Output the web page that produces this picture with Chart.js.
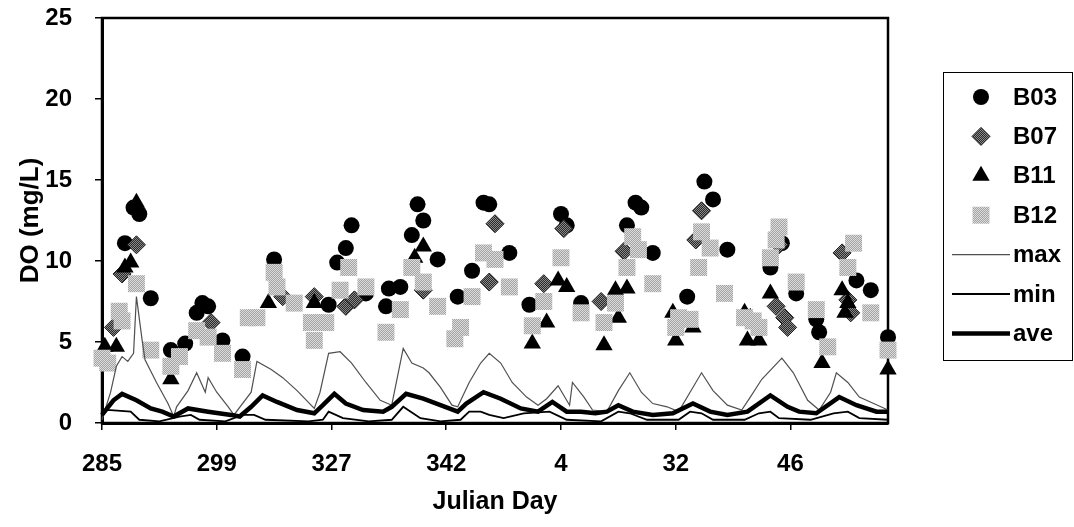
<!DOCTYPE html>
<html>
<head>
<meta charset="utf-8">
<title>DO (mg/L) by Julian Day</title>
<script src="https://cdn.jsdelivr.net/npm/chart.js@4/dist/chart.umd.min.js"></script>
<style>
  body { margin: 0; background: #fff; }
  canvas { display: block; }
</style>
</head>
<body>
<canvas id="doChart" width="1074" height="527"></canvas>
<script>
// x values are slots along the day axis, 40 slots between labelled days
var dayLabels = ['285', '299', '327', '342', '4', '32', '46'];
var slotsPerLabel = 40;
var lastSlot = 274;

// station readings
var b03Slot = [8, 11, 13, 17, 24, 29, 33, 35, 37, 42, 49, 60, 79, 82, 85, 87, 92, 99, 100, 104,
  108, 110, 112, 117, 124, 129, 133, 135, 142, 149, 160, 162, 167, 183, 186, 188, 192, 204, 210, 213,
  218, 233, 237, 242, 249, 250, 263, 268, 274];
var b03DO = [11.1, 13.3, 12.9, 7.7, 4.5, 4.9, 6.8, 7.4, 7.2, 5.1, 4.1, 10.1, 7.3, 9.9, 10.8, 12.2, 8.0, 7.2, 8.3, 8.4,
  11.6, 13.5, 12.5, 10.1, 7.8, 9.4, 13.6, 13.5, 10.5, 7.3, 12.9, 12.2, 7.4, 12.2, 13.6, 13.3, 10.5, 7.8, 14.9, 13.8,
  10.7, 9.6, 11.1, 8.0, 6.4, 5.6, 8.8, 8.2, 5.3];

var b07Slot = [4, 7, 12, 38, 63, 74, 85, 88, 112, 135, 137, 154, 161, 174, 182, 207, 209, 235, 236, 238, 239, 258, 260, 261];
var b07DO = [5.9, 9.2, 11.0, 6.2, 7.8, 7.8, 7.2, 7.6, 8.2, 8.7, 12.3, 8.6, 12.0, 7.5, 10.6, 11.3, 13.1, 7.2, 11.0, 6.5, 5.9, 10.5, 7.6, 6.8];

var b11Slot = [1, 5, 8, 10, 12, 24, 58, 74, 109, 112, 150, 155, 159, 162, 175, 179, 180, 183, 199, 200,
  206, 224, 225, 226, 229, 233, 251, 258, 259, 260, 274];
var b11DO = [4.7, 4.7, 9.6, 9.9, 13.6, 2.7, 7.4, 7.4, 10.2, 10.9, 4.9, 6.2, 8.8, 8.4, 4.8, 8.2, 6.5, 8.3, 6.8, 5.1,
  5.9, 6.8, 5.1, 6.5, 5.1, 8.0, 3.7, 8.2, 6.8, 7.4, 3.3];

var b12Slot = [0, 2, 6, 7, 12, 17, 24, 27, 33, 37, 42, 49, 51, 54, 60, 61, 67, 73, 74, 78,
  83, 86, 92, 99, 104, 108, 112, 117, 123, 125, 129, 133, 137, 142, 150, 154, 160, 167, 175, 179,
  183, 185, 187, 192, 200, 201, 205, 208, 209, 212, 217, 224, 227, 229, 233, 235, 236, 242, 249, 253,
  260, 262, 268, 274];
var b12DO = [4.0, 3.7, 6.9, 6.3, 8.6, 4.5, 3.5, 4.1, 5.7, 5.3, 4.3, 3.3, 6.5, 6.5, 9.3, 8.4, 7.4, 6.2, 5.1, 6.2,
  8.2, 9.6, 8.4, 5.6, 7.0, 9.6, 8.7, 7.2, 5.2, 5.9, 7.8, 10.5, 10.1, 8.4, 6.0, 7.5, 10.2, 6.8, 6.2, 7.4,
  9.6, 11.5, 10.7, 8.6, 5.9, 6.5, 6.4, 9.6, 11.8, 10.8, 8.0, 6.5, 6.3, 5.9, 10.2, 11.3, 12.1, 8.7, 7.0, 4.7,
  9.6, 11.1, 6.8, 4.5];

// continuous logger traces
var maxSlot = [0, 3, 5, 7, 9, 11, 12, 14, 15, 19, 23, 25, 26, 30, 33, 36, 37, 40, 44, 46,
  52, 54, 59, 63, 68, 74, 76, 79, 83, 87, 92, 97, 101, 105, 108, 112, 114, 118, 122, 124,
  128, 132, 135, 139, 143, 148, 152, 155, 159, 163, 164, 168, 171, 176, 180, 184, 188, 192, 197, 201,
  205, 209, 213, 218, 223, 226, 230, 237, 241, 246, 250, 254, 256, 260, 264, 269, 274];
var maxDO = [0.2, 1.9, 3.5, 4.1, 3.8, 4.3, 7.8, 5.1, 3.9, 2.5, 1.2, 0.4, 1.0, 2.0, 3.1, 1.9, 2.8, 1.9, 1.0, 0.5,
  1.9, 3.8, 3.3, 2.8, 2.0, 0.9, 1.9, 4.3, 4.4, 3.7, 2.5, 1.4, 1.1, 4.6, 3.7, 3.4, 3.1, 2.2, 1.1, 1.0,
  2.5, 3.7, 4.3, 3.7, 2.5, 1.6, 1.1, 1.5, 2.3, 1.1, 2.5, 1.6, 0.8, 0.7, 2.0, 3.1, 1.9, 1.2, 1.0, 0.7,
  1.9, 3.1, 2.0, 1.1, 0.8, 1.6, 2.7, 4.0, 3.1, 1.4, 0.8, 1.9, 3.1, 2.5, 1.6, 1.2, 0.8];

var minSlot = [0, 3, 10, 13, 20, 27, 31, 34, 43, 49, 53, 57, 72, 77, 79, 84, 93, 101, 105, 111,
  118, 125, 128, 132, 135, 140, 147, 156, 162, 174, 180, 184, 190, 201, 205, 209, 213, 224, 229, 233,
  236, 247, 255, 260, 264, 274];
var minDO = [0.8, 0.8, 0.7, 0.2, 0.1, 0.4, 0.5, 0.2, 0.1, 0.5, 0.5, 0.2, 0.1, 0.2, 0.7, 0.3, 0.1, 0.2, 1.0, 0.3,
  0.1, 0.2, 0.7, 0.7, 0.5, 0.3, 0.6, 0.7, 0.2, 0.1, 0.7, 0.6, 0.2, 0.2, 0.7, 0.6, 0.2, 0.2, 0.6, 0.7,
  0.3, 0.2, 0.6, 0.7, 0.3, 0.2];

var aveSlot = [0, 4, 7, 12, 17, 21, 25, 30, 37, 45, 48, 52, 56, 61, 68, 74, 77, 81, 85, 91,
  98, 101, 106, 112, 118, 124, 127, 133, 139, 146, 152, 157, 162, 167, 172, 176, 180, 185, 192, 199,
  206, 212, 218, 225, 233, 239, 243, 249, 257, 263, 270, 274];
var aveDO = [0.5, 1.4, 1.8, 1.4, 0.9, 0.7, 0.4, 0.9, 0.7, 0.5, 0.4, 1.0, 1.7, 1.3, 0.8, 0.6, 1.1, 1.8, 1.2, 0.8,
  0.7, 1.0, 1.8, 1.5, 1.1, 0.7, 1.2, 1.9, 1.5, 0.9, 0.7, 1.3, 0.7, 0.7, 0.6, 0.7, 1.1, 0.7, 0.5, 0.6,
  1.2, 0.7, 0.5, 0.7, 1.7, 1.0, 0.7, 0.6, 1.6, 1.1, 0.7, 0.7];

var FONT = '"Liberation Sans", Arial, sans-serif';

function pts(xs, ys) {
  return xs.map(function (x, i) { return { x: x, y: ys[i] }; });
}

var canvas = document.getElementById('doChart');
var ctx = canvas.getContext('2d');

// small checkerboard fill, like a halftoned grey
function dither(a, b) {
  var c = document.createElement('canvas');
  c.width = 2; c.height = 2;
  var g = c.getContext('2d');
  g.fillStyle = a; g.fillRect(0, 0, 2, 2);
  g.fillStyle = b; g.fillRect(0, 0, 1, 1); g.fillRect(1, 1, 1, 1);
  return ctx.createPattern(c, 'repeat');
}

var diamondFill = dither('#2a2a2a', '#8a8a8a');
var squareFill = dither('#a4a4a4', '#dcdcdc');

function marker(style, x, y, r) {
  ctx.beginPath();
  if (style === 'circle') {
    ctx.arc(x, y, r, 0, Math.PI * 2);
  } else if (style === 'rectRot') {
    ctx.moveTo(x, y - r); ctx.lineTo(x + r, y); ctx.lineTo(x, y + r); ctx.lineTo(x - r, y);
  } else if (style === 'triangle') {
    ctx.moveTo(x, y - r); ctx.lineTo(x + r * 0.866, y + r * 0.5); ctx.lineTo(x - r * 0.866, y + r * 0.5);
  } else {
    var s = r * Math.SQRT1_2;
    ctx.rect(x - s, y - s, 2 * s, 2 * s);
  }
  ctx.closePath();
}

// boxed legend to the right of the plot
var legendBox = {
  id: 'legendBox',
  afterDraw: function (chart) {
    var left = 943, top = 72, right = 1072, bottom = 360;
    ctx.save();
    ctx.strokeStyle = '#000';
    ctx.lineWidth = 1;
    ctx.strokeRect(left + 0.5, top + 0.5, right - left, bottom - top);
    ctx.font = 'bold 24px ' + FONT;
    ctx.textBaseline = 'middle';
    ctx.textAlign = 'left';
    chart.data.datasets.forEach(function (ds, i) {
      var y = 97 + i * 39.4;
      if (ds.showLine === false) {
        ctx.fillStyle = ds.backgroundColor;
        ctx.strokeStyle = ds.borderColor;
        ctx.lineWidth = ds.borderWidth;
        marker(ds.pointStyle, 981, y, ds.pointRadius);
        ctx.fill();
        if (ds.borderWidth) ctx.stroke();
      } else {
        ctx.strokeStyle = ds.borderColor;
        ctx.lineWidth = ds.borderWidth;
        ctx.beginPath();
        ctx.moveTo(952, y);
        ctx.lineTo(1010, y);
        ctx.stroke();
      }
      ctx.fillStyle = '#000';
      ctx.fillText(ds.label, 1013, y + 1);
    });
    ctx.restore();
  }
};

// heavy frame around the plot area
var plotFrame = {
  id: 'plotFrame',
  beforeDatasetsDraw: function (chart) {
    var a = chart.chartArea;
    ctx.save();
    ctx.strokeStyle = '#000';
    ctx.lineWidth = 2.5;
    ctx.strokeRect(a.left, a.top, a.right - a.left, a.bottom - a.top);
    ctx.restore();
  }
};

Chart.defaults.font.family = FONT;
Chart.defaults.font.size = 24;
Chart.defaults.font.weight = 'bold';
Chart.defaults.color = '#000';

function points(label, xs, ys, style, radius, fill, border, bw, order) {
  return {
    label: label, data: pts(xs, ys), showLine: false,
    pointStyle: style, pointRadius: radius, pointHoverRadius: radius,
    backgroundColor: fill, borderColor: border, borderWidth: bw,
    order: order, clip: false
  };
}

function trace(label, xs, ys, color, width, order) {
  return {
    type: 'line', label: label, data: pts(xs, ys),
    borderColor: color, borderWidth: width, pointRadius: 0,
    tension: 0, fill: false, order: order, clip: false
  };
}

new Chart(ctx, {
  type: 'scatter',
  data: {
    datasets: [
      points('B03', b03Slot, b03DO, 'circle', 8, '#000', '#000', 0, 7),
      points('B07', b07Slot, b07DO, 'rectRot', 9, diamondFill, '#1a1a1a', 1, 6),
      points('B11', b11Slot, b11DO, 'triangle', 10, '#000', '#000', 0, 5),
      points('B12', b12Slot, b12DO, 'rect', 12, squareFill, '#b0b0b0', 0, 4),
      trace('max', maxSlot, maxDO, '#505050', 1.2, 3),
      trace('min', minSlot, minDO, '#000', 1.8, 2),
      trace('ave', aveSlot, aveDO, '#000', 4.5, 1)
    ]
  },
  options: {
    responsive: false,
    animation: false,
    devicePixelRatio: 1,
    layout: { padding: { left: 0, right: 186, top: 18, bottom: 0 } },
    plugins: {
      legend: { display: false },
      tooltip: { enabled: false }
    },
    scales: {
      x: {
        type: 'linear',
        min: 0,
        max: lastSlot,
        afterFit: function (s) {
          s.height = 104;
          s.paddingLeft = 0;
          s.paddingRight = 0;
        },
        ticks: {
          stepSize: slotsPerLabel,
          includeBounds: false,
          autoSkip: false,
          maxRotation: 0,
          padding: 20,
          callback: function (v) {
            var k = v / slotsPerLabel;
            return dayLabels[k] !== undefined ? dayLabels[k] : '';
          }
        },
        grid: { drawOnChartArea: false, tickLength: 7, color: '#000', lineWidth: 1.5 },
        border: { color: '#000', width: 3 },
        title: { display: true, text: 'Julian Day', font: { size: 25 }, padding: { top: 0, bottom: 10 } }
      },
      y: {
        min: 0,
        max: 25,
        afterFit: function (s) {
          s.width = 102;
          s.paddingTop = 0;
          s.paddingBottom = 0;
        },
        ticks: { stepSize: 5, padding: 23 },
        grid: { drawOnChartArea: false, tickLength: 7, color: '#000', lineWidth: 1.5 },
        border: { color: '#000', width: 3 },
        title: { display: true, text: 'DO (mg/L)', font: { size: 26 }, padding: { top: 15, bottom: 0 } }
      }
    }
  },
  plugins: [plotFrame, legendBox]
});
</script>
</body>
</html>
